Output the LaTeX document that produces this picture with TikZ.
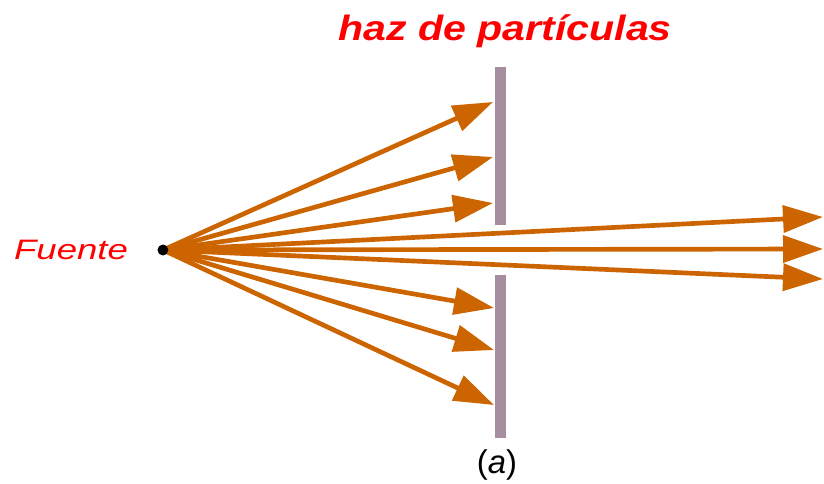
\documentclass[tikz,border=0pt]{standalone}
\usepackage{fontspec}
\setmainfont{Liberation Sans}
\usetikzlibrary{arrows.meta,positioning}
\definecolor{rayo}{RGB}{204,100,0}
\definecolor{pantalla}{RGB}{166,142,160}
\definecolor{rotulo}{RGB}{255,0,0}
\tikzset{
  ray/.style     = {rayo, line width=1.4mm, -{Triangle[length=12mm,width=8mm]}},
  fuente/.style  = {fill, circle, inner sep=0pt, minimum size=3.2mm},
  pared/.style   = {fill=pantalla, draw=none},
  titulo/.style  = {font=\fontsize{30}{32}\selectfont\bfseries\itshape, inner sep=0pt},
}
\begin{document}
\begin{tikzpicture}[x=0.03cm,y=-0.03cm]
\useasboundingbox[fill=white] (0,0) rectangle (824,484);
% pantalla con rendija
\fill[pared] (495,67) rectangle (506,225);
\fill[pared] (495,275) rectangle (506,438);
% fuente y extremos
\node[fuente] (src) at (163,250) {};
\coordinate (t1) at (493,102);
\coordinate (t2) at (493,157);
\coordinate (t3) at (493,203);
\coordinate (t4) at (823,217);
\coordinate (t5) at (823,249);
\coordinate (t6) at (823,279);
\coordinate (t7) at (494,308);
\coordinate (t8) at (494,350);
\coordinate (t9) at (494,405);
\draw[ray] (src.center) -- (t1);
\draw[ray] (src.center) -- (t2);
\draw[ray] (src.center) -- (t3);
\draw[ray] (src.center) -- (t4);
\draw[ray] (src.center) -- (t5);
\draw[ray] (src.center) -- (t6);
\draw[ray] (src.center) -- (t7);
\draw[ray] (src.center) -- (t8);
\draw[ray] (src.center) -- (t9);
\node[fuente] at (163,250) {};
% rotulos
\node[titulo, rotulo, xscale=1.17] (haz) at (505,31) {haz de partículas};
\node[font=\fontsize{24}{26}\selectfont\itshape, rotulo, xscale=1.3, inner sep=0pt] (lbl) at (71,250) {Fuente};
\node[font=\fontsize{28}{30}\selectfont, inner sep=0pt] (cap) at (497,465) {(\textit{a})};
\end{tikzpicture}
\end{document}
